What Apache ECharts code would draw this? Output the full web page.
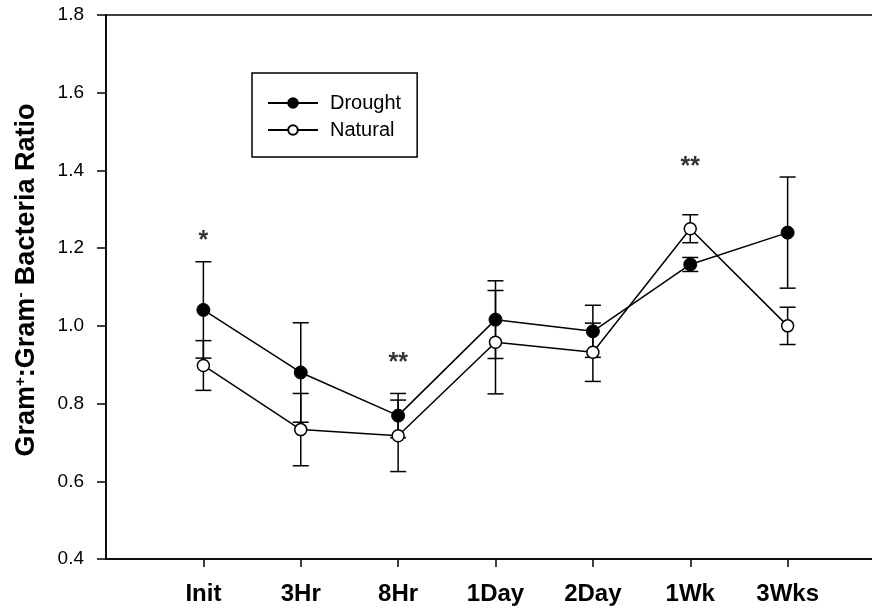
<!DOCTYPE html>
<html>
<head>
<meta charset="utf-8">
<script src="https://cdn.jsdelivr.net/npm/echarts@6/dist/echarts.min.js"></script>
<style>
  html, body { margin: 0; padding: 0; background: #fff; }
  #chart { width: 872px; height: 613px; }
</style>
</head>
<body>
<div id="chart"></div>
<script>
// Sampling times (placed at x = 1..7 on the value axis)
const categories = ['Init', '3Hr', '8Hr', '1Day', '2Day', '1Wk', '3Wks'];
const xPos = [1, 2, 3, 4, 5, 6, 7];

// Gram+:Gram- ratio means and standard errors
const droughtMean = [1.041, 0.880, 0.769, 1.016, 0.986, 1.158, 1.240];
const droughtErr  = [0.124, 0.128, 0.057, 0.100, 0.067, 0.018, 0.143];
const naturalMean = [0.898, 0.733, 0.717, 0.958, 0.932, 1.250, 1.000];
const naturalErr  = [0.064, 0.093, 0.092, 0.133, 0.075, 0.036, 0.048];

// Significance markers above selected times
const sigX = [1, 3, 6];
const sigY = [1.219, 0.905, 1.409];
const sigText = ['*', '**', '**'];

// y-axis ticks
const yTicks = [0.4, 0.6, 0.8, 1.0, 1.2, 1.4, 1.6, 1.8];

const chart = echarts.init(document.getElementById('chart'));

function pairs(xs, ys) { return xs.map((x, i) => [x, ys[i]]); }

function errorBars(means, errs) {
  return {
    type: 'custom',
    silent: true,
    z: 1,
    data: xPos.map((x, i) => [x, means[i] - errs[i], means[i] + errs[i]]),
    renderItem: function (params, api) {
      const lo = api.coord([api.value(0), api.value(1)]);
      const hi = api.coord([api.value(0), api.value(2)]);
      const w = 8;
      const style = { stroke: '#000', lineWidth: 1.5 };
      return {
        type: 'group',
        children: [
          { type: 'line', shape: { x1: lo[0], y1: lo[1], x2: hi[0], y2: hi[1] }, style: style },
          { type: 'line', shape: { x1: lo[0] - w, y1: lo[1], x2: lo[0] + w, y2: lo[1] }, style: style },
          { type: 'line', shape: { x1: hi[0] - w, y1: hi[1], x2: hi[0] + w, y2: hi[1] }, style: style }
        ]
      };
    }
  };
}

const option = {
  backgroundColor: '#fff',
  animation: false,
  textStyle: { fontFamily: 'Liberation Sans, Arial, sans-serif', color: '#000' },
  grid: {
    left: 106, top: 15, width: 779, height: 544,
    outerBoundsMode: 'none', containLabel: false,
    show: true, borderColor: '#000', borderWidth: 1.5, backgroundColor: 'transparent'
  },
  legend: {
    left: 252, top: 73,
    orient: 'vertical',
    data: ['Drought', 'Natural'],
    borderColor: '#000', borderWidth: 1.5,
    padding: [20, 16, 17, 15],
    itemGap: 7,
    itemWidth: 50, itemHeight: 12,
    textStyle: { fontSize: 20, color: '#000', lineHeight: 20, padding: [0, 0, 0, 7] }
  },
  xAxis: {
    type: 'value', min: 0, max: 8, interval: 1,
    axisLine: { show: true, lineStyle: { color: '#000', width: 1.5 } },
    axisTick: { show: true, inside: false, length: 8, customValues: xPos, lineStyle: { color: '#000', width: 1.5 } },
    axisLabel: {
      customValues: xPos,
      margin: 23,
      fontSize: 24, fontWeight: 'bold', color: '#000',
      formatter: function (v) { return categories[Math.round(v) - 1] || ''; }
    },
    splitLine: { show: false }
  },
  yAxis: {
    type: 'value', min: yTicks[0], max: yTicks[yTicks.length - 1], interval: 0.2,
    name: '{b|Gram}{s|+}{b|:Gram}{s|-}{b| Bacteria Ratio}',
    nameLocation: 'middle', nameRotate: 90, nameGap: 66,
    nameTextStyle: {
      padding: [0, 0, 0, 14],
      rich: {
        b: { fontSize: 27, fontWeight: 'bold', color: '#000' },
        s: { fontSize: 15, fontWeight: 'bold', color: '#000', verticalAlign: 'top', padding: [0, 0, 10, 0] }
      }
    },
    axisLine: { show: true, lineStyle: { color: '#000', width: 1.5 } },
    axisTick: { show: true, inside: false, length: 9, lineStyle: { color: '#000', width: 1.5 } },
    axisLabel: {
      margin: 22, fontSize: 19, color: '#000',
      formatter: function (v) { return v.toFixed(1); }
    },
    splitLine: { show: false }
  },
  series: [
    errorBars(droughtMean, droughtErr),
    errorBars(naturalMean, naturalErr),
    {
      name: 'Drought', type: 'line', z: 3,
      data: pairs(xPos, droughtMean),
      symbol: 'circle', symbolSize: 13,
      lineStyle: { color: '#000', width: 1.5 },
      itemStyle: { color: '#000', borderColor: '#000', borderWidth: 1 }
    },
    {
      name: 'Natural', type: 'line', z: 3,
      data: pairs(xPos, naturalMean),
      symbol: 'circle', symbolSize: 12,
      lineStyle: { color: '#000', width: 1.5 },
      itemStyle: { color: '#fff', borderColor: '#000', borderWidth: 1.5 }
    },
    {
      type: 'scatter', silent: true, z: 4,
      data: pairs(sigX, sigY),
      symbolSize: 0,
      label: {
        show: true, position: 'inside',
        fontSize: 25, fontWeight: 'bold', color: '#000',
        formatter: function (p) { return sigText[p.dataIndex]; }
      }
    }
  ]
};

chart.setOption(option);
</script>
</body>
</html>
